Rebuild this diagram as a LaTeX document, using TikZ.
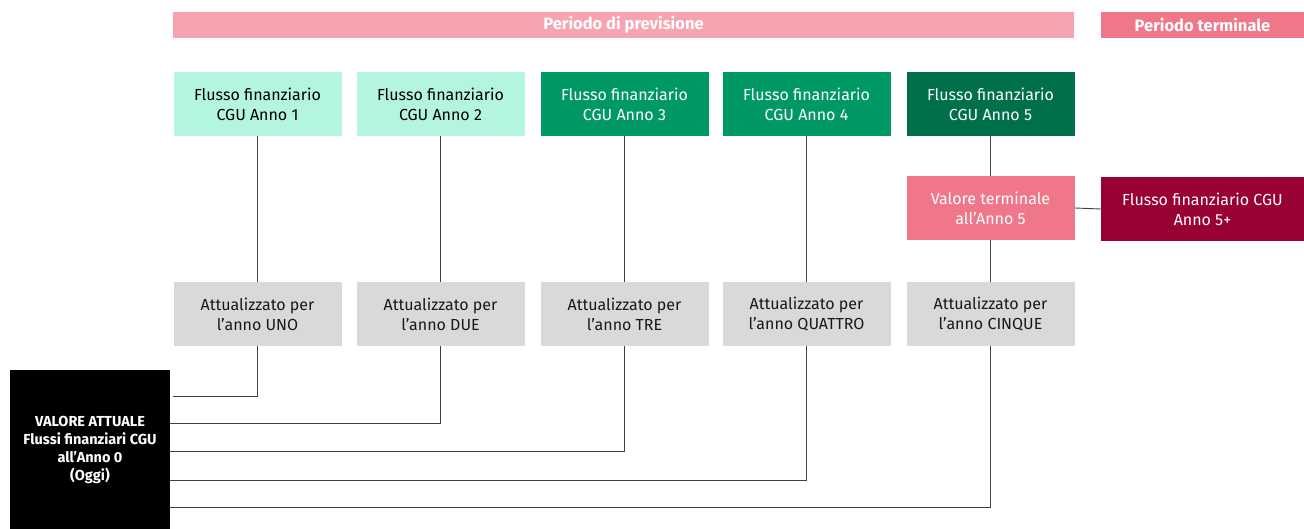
\documentclass[tikz,border=0pt]{standalone}
\usepackage{fontspec}
\setmainfont{Fira Sans}
\definecolor{mint}{RGB}{179,245,225}
\definecolor{gmid}{RGB}{0,153,102}
\definecolor{gdark}{RGB}{0,112,74}
\definecolor{pinkbar}{RGB}{245,164,176}
\definecolor{pinkterm}{RGB}{240,119,137}
\definecolor{darkred}{RGB}{153,0,51}
\definecolor{greybox}{RGB}{217,217,217}
\definecolor{linegrey}{RGB}{64,64,64}
\begin{document}
\begin{tikzpicture}[x=1pt,y=-1pt,
  box/.style={rectangle, inner sep=0pt, minimum width=168pt, minimum height=64pt, align=center, font=\fontsize{16}{20}\selectfont},
  light/.style={box, fill=mint, text=black},
  gm/.style={box, fill=gmid, text=white},
  gd/.style={box, fill=gdark, text=white},
  gr/.style={box, fill=greybox, text=black!90},
  bar/.style={rectangle, inner sep=0pt, minimum height=26pt, text=white, font=\fontsize{16.5}{18}\selectfont\bfseries},
  conn/.style={draw=linegrey, line width=0.9pt}
]
\useasboundingbox (0,0) rectangle (1304,529);
% top bars
\node[bar, fill=pinkbar, minimum width=901pt] (pp) at (623.5,25) {Periodo di previsione};
\node[bar, fill=pinkterm, minimum width=203pt] (pt) at (1202.5,25) {Periodo terminale};
% top boxes
\node[light] (f1) at (257.5,104) {Flusso finanziario\\CGU Anno 1};
\node[light] (f2) at (440.5,104) {Flusso finanziario\\CGU Anno 2};
\node[gm] (f3) at (624.5,104) {Flusso finanziario\\CGU Anno 3};
\node[gm] (f4) at (806.5,104) {Flusso finanziario\\CGU Anno 4};
\node[gd] (f5) at (990.5,104) {Flusso finanziario\\CGU Anno 5};
% terminal
\node[box, fill=pinkterm, text=white] (vt) at (990.5,208) {Valore terminale\\all’Anno 5};
\node[box, fill=darkred, text=white, minimum width=203pt] (fc) at (1202.5,209) {Flusso finanziario CGU\\Anno 5+};
% grey boxes
\node[gr] (g1) at (257.5,314) {Attualizzato per\\l’anno UNO};
\node[gr] (g2) at (440.5,314) {Attualizzato per\\l’anno DUE};
\node[gr] (g3) at (624.5,314) {Attualizzato per\\l’anno TRE};
\node[gr] (g4) at (806.5,314) {Attualizzato per\\l’anno QUATTRO};
\node[gr] (g5) at (990.5,314) {Attualizzato per\\l’anno CINQUE};
% black box
\node[rectangle, inner sep=0pt, fill=black, text=white, minimum width=160pt, minimum height=160pt, align=center, font=\fontsize{14.5}{18}\selectfont\bfseries] (va) at (90,450) {VALORE ATTUALE\\Flussi finanziari CGU\\all’Anno 0\\(Oggi)};
% connectors
\draw[conn] (f1.south) -- (g1.north);
\draw[conn] (f2.south) -- (g2.north);
\draw[conn] (f3.south) -- (g3.north);
\draw[conn] (f4.south) -- (g4.north);
\draw[conn] (f5.south) -- (vt.north);
\draw[conn] (vt.south) -- (g5.north);
\draw[conn] (vt.east) -- (fc.west);
\draw[conn] (g1.south) |- ([xshift=3pt,yshift=-27pt]va.north east);
\draw[conn] (g2.south) |- ([yshift=-54pt]va.north east);
\draw[conn] (g3.south) |- ([yshift=-82pt]va.north east);
\draw[conn] (g4.south) |- ([yshift=-111pt]va.north east);
\draw[conn] (g5.south) |- ([yshift=-138pt]va.north east);
\end{tikzpicture}
\end{document}
